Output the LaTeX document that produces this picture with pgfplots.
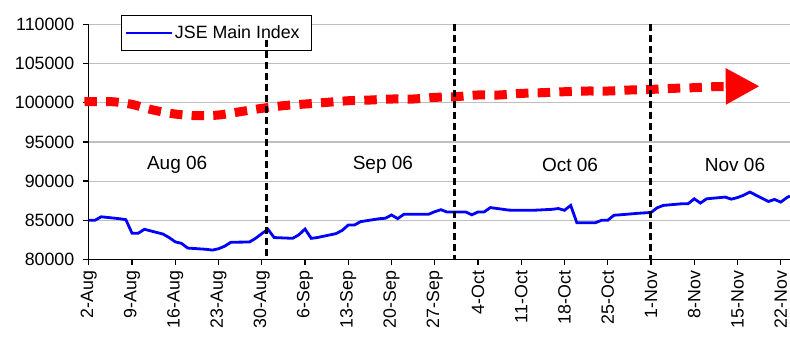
\documentclass[border=0pt]{standalone}
\usepackage{fontspec}
\setmainfont{Liberation Sans}
\usepackage{pgfplots}
\pgfplotsset{compat=1.18}
\usetikzlibrary{arrows.meta}
\begin{document}
\begin{tikzpicture}
\begin{axis}[
 at={(0,0)}, anchor=south west,
 scale only axis, width=701.2bp, height=235.2bp,
 xmin=0, xmax=113.5, ymin=80000, ymax=110000,
 axis lines*=left,
 axis line style={black, line width=1.3bp},
 xtick={0,7,...,112},
 xticklabels={2-Aug,9-Aug,16-Aug,23-Aug,30-Aug,6-Sep,13-Sep,20-Sep,27-Sep,4-Oct,11-Oct,18-Oct,25-Oct,1-Nov,8-Nov,15-Nov,22-Nov},
 ytick={80000,85000,...,110000},
 yticklabels={80000,85000,90000,95000,100000,105000,110000},
 scaled y ticks=false,
 /pgf/number format/assume math mode=true,
 tick align=outside,
 major tick length=6bp,
 tick style={black, line width=1.3bp},
 ymajorgrids, grid style={gray!50, line width=1.2bp},
 xticklabel style={rotate=90, anchor=east, font=\fontsize{17.8bp}{21bp}\selectfont},
 yticklabel style={font=\fontsize{17.8bp}{21bp}\selectfont},
 xticklabel shift=2bp,
 yticklabel shift=5bp,
 clip=false,
 set layers,
 legend style={at={(0.0455,1.0395)}, anchor=north west, draw=black, line width=1bp, fill=white,
   font=\fontsize{17.8bp}{20bp}\selectfont, inner xsep=3bp, inner ysep=8.3bp},
 legend image code/.code={\draw[#1] (0bp,0bp) -- (46bp,0bp);},
]
% red trend arrow
\addplot[red, line width=9bp, dash pattern=on 12.5bp off 9.2bp, smooth, -{Triangle[length=34bp, width=34bp]}, forget plot] coordinates {
(-0.7,100130) (3.7,100130) (6.9,99800) (10.4,99070) (13.9,98560) (17.5,98340) (21,98430) (24.5,98850) (28,99280) (31.5,99620) (35,99830) (38.5,100040) (42,100250) (45.5,100340) (49,100470) (52.5,100470) (56,100680) (59.3,100760) (62.8,100980) (66.3,100980) (70.1,101190) (73.5,101280) (77,101400) (80.5,101490) (84,101490) (87.6,101620) (91.1,101700) (94.6,101830) (98.1,101920) (101.6,102050) (108.6,102100)
};
% JSE main index
\addplot[blue, line width=2.8bp] coordinates {
(0,85000) (1,85000) (2,85450) (5,85200) (6,85080) (7,83350) (8,83350) (9,83850) (12,83250) (13,82800) (14,82250) (15,82060) (16,81460) (19,81300) (20,81200) (21,81370) (22,81700) (23,82200) (26,82230) (27,82700) (28,83300) (29,83850) (30,82800) (33,82700) (34,83150) (35,83890) (36,82700) (37,82800) (40,83300) (41,83700) (42,84400) (43,84400) (44,84830) (47,85200) (48,85260) (49,85680) (50,85210) (51,85770) (54,85770) (55,85770) (56,86100) (57,86350) (58,86050) (61,86070) (62,85700) (63,86070) (64,86070) (65,86620) (68,86300) (69,86280) (70,86280) (71,86280) (72,86280) (75,86400) (76,86500) (77,86280) (78,86900) (79,84690) (82,84690) (83,85000) (84,85000) (85,85650) (86,85700) (89,85900) (90,85950) (91,86000) (92,86600) (93,86900) (96,87110) (97,87110) (98,87740) (99,87200) (100,87740) (103,87960) (104,87700) (105,87900) (106,88200) (107,88600) (110,87400) (111,87660) (112,87320) (113,87900) (113.5,88090)
};
\addlegendentry{JSE Main Index\hspace*{7bp}}
% month separators
\addplot[on layer=axis foreground, black, line width=3bp, dash pattern=on 7bp off 4bp, forget plot] coordinates {(28.7,108000) (28.7,80000)};
\addplot[on layer=axis foreground, black, line width=3bp, dash pattern=on 7bp off 4bp, forget plot] coordinates {(59.2,110000) (59.2,80000)};
\addplot[on layer=axis foreground, black, line width=3bp, dash pattern=on 7bp off 4bp, forget plot] coordinates {(90.9,110000) (90.9,80000)};
\node[font=\fontsize{19bp}{22bp}\selectfont] at (axis cs:14.3,92050) {Aug 06};
\node[font=\fontsize{19bp}{22bp}\selectfont] at (axis cs:47.6,92050) {Sep 06};
\node[font=\fontsize{19bp}{22bp}\selectfont] at (axis cs:77.9,92050) {Oct 06};
\node[font=\fontsize{19bp}{22bp}\selectfont] at (axis cs:104.6,92050) {Nov 06};
\end{axis}
\pgfresetboundingbox
\path[use as bounding box] (-88.8bp,-79.5bp) rectangle (701.2bp,259.5bp);
\end{tikzpicture}
\end{document}
